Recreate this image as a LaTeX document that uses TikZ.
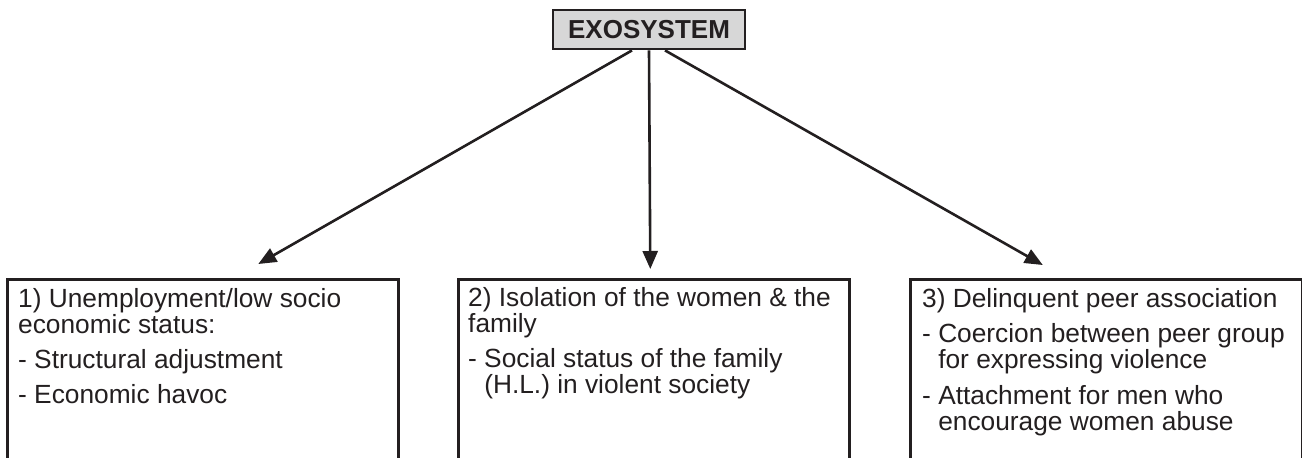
\documentclass[tikz,border=0pt]{standalone}
\usepackage{fontspec}
\setmainfont{Liberation Sans}
\usetikzlibrary{arrows.meta,calc}
\definecolor{ink}{HTML}{231F20}
\definecolor{exofill}{HTML}{D7D7D7}

\begin{document}
\begin{tikzpicture}[x=1pt,y=-1pt,
  every node/.style={text=ink},
  headbox/.style={draw=ink, line width=2.8pt, fill=exofill,
    minimum width=192pt, minimum height=39pt, inner sep=0pt,
    font=\fontsize{26}{30}\selectfont\bfseries},
  factorbox/.style={draw=ink, line width=2.6pt, anchor=north west,
    minimum width=391pt, minimum height=200pt, inner sep=0pt},
  factortext/.style={anchor=base west, inner sep=0pt,
    font=\fontsize{26.3}{26}\selectfont},
  link/.style={draw=ink, line width=2.6pt, -{Triangle[length=18pt,width=15pt]}}
]
\useasboundingbox (0,0) rectangle (1302,458);
\clip (0,0) rectangle (1302,458);

% top level
\node[headbox] (exo) at (649,29.5) {EXOSYSTEM};

% factor boxes (open at the bottom edge)
\node[factorbox] (f1) at (6,278) {};
\node[factorbox] (f2) at (457,278) {};
\node[factorbox, minimum width=392pt] (f3) at (909,278) {};

% box contents
\node[factortext] (t1) at (18,307) {\parbox[t]{375pt}{\raggedright
  1) Unemployment/low socio\\
  economic status:\\[9.5pt]
  - Structural adjustment\\[9pt]
  - Economic havoc}};
\node[factortext] (t2) at (468,306) {\parbox[t]{375pt}{\raggedright
  2) Isolation of the women \& the\\
  family\\[9.5pt]
  - Social status of the family\\
  \hphantom{- }(H.L.) in violent society}};
\node[factortext] (t3) at (922,307) {\parbox[t]{375pt}{\raggedright
  3) Delinquent peer association\\[9pt]
  - Coercion between peer group\\
  \hphantom{- }for expressing violence\\[10pt]
  - Attachment for men who\\
  \hphantom{- }encourage women abuse}};

% arrow tips, just above each box
\coordinate (tip1) at ($(f1.north)+(55.5,-14)$);
\coordinate (tip2) at ($(f2.north)+(-3.5,-9)$);
\coordinate (tip3) at ($(f3.north)+(-63.5,-13)$);

\draw[link] ($(exo.south)+(-17,0)$) -- (tip1);
\draw[link] (exo.south) -- (tip2);
\draw[link] ($(exo.south)+(16,0)$) -- (tip3);
\end{tikzpicture}
\end{document}
